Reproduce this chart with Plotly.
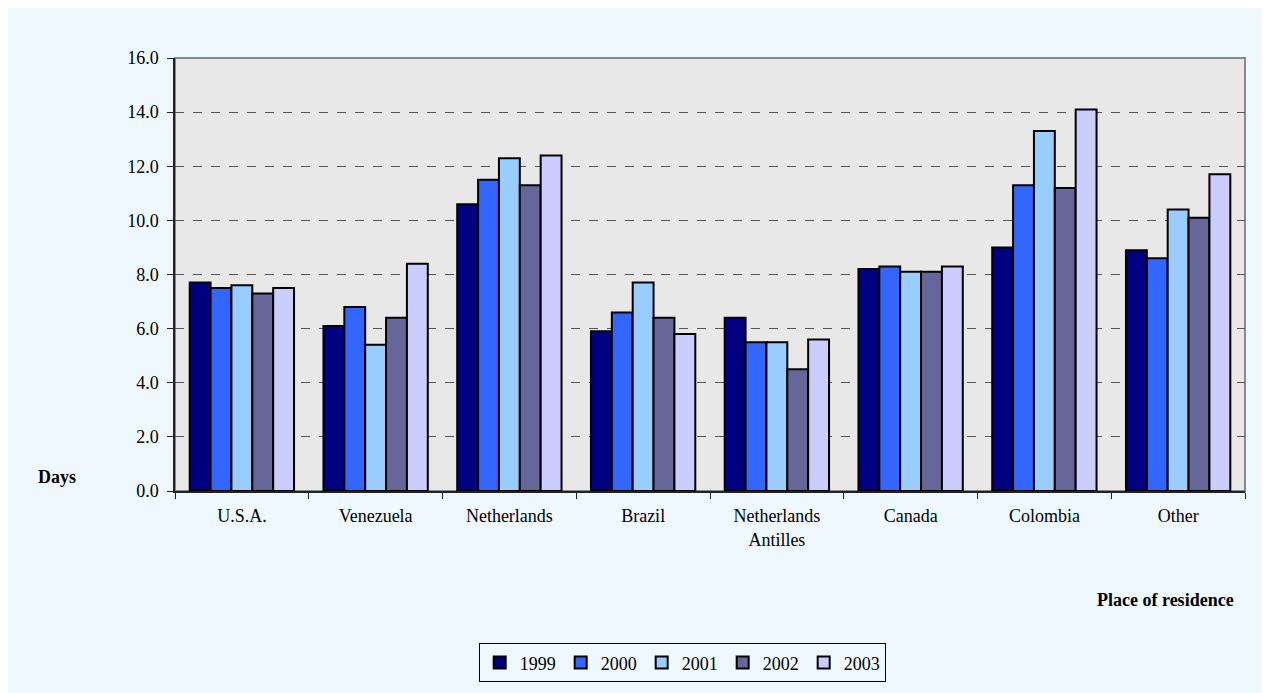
import plotly.graph_objects as go

categories = ["U.S.A.", "Venezuela", "Netherlands", "Brazil", "Netherlands<br>Antilles",
              "Canada", "Colombia", "Other"]
years = ["1999", "2000", "2001", "2002", "2003"]
values = {
    "1999": [7.7, 6.1, 10.6, 5.9, 6.4, 8.2, 9.0, 8.9],
    "2000": [7.5, 6.8, 11.5, 6.6, 5.5, 8.3, 11.3, 8.6],
    "2001": [7.6, 5.4, 12.3, 7.7, 5.5, 8.1, 13.3, 10.4],
    "2002": [7.3, 6.4, 11.3, 6.4, 4.5, 8.1, 11.2, 10.1],
    "2003": [7.5, 8.4, 12.4, 5.8, 5.6, 8.3, 14.1, 11.7],
}
colors = ["#000080", "#3366FF", "#99CCFF", "#666699", "#CCCCFF"]
y_ticks = [0, 2, 4, 6, 8, 10, 12, 14, 16]

FONT = "Liberation Serif"

fig = go.Figure()
for yr, c in zip(years, colors):
    fig.add_trace(go.Bar(
        x=categories, y=values[yr], name=yr,
        marker=dict(color=c, line=dict(color="black", width=2)),
    ))

fig.update_layout(
    width=1270, height=693,
    paper_bgcolor="#EEF8FE",
    plot_bgcolor="#E8E8E8",
    margin=dict(l=167, r=33, t=50, b=210),
    barmode="group", bargap=0.22, bargroupgap=0,
    font=dict(family=FONT, size=18, color="black"),
    showlegend=True,
    legend=dict(orientation="h", x=0.474, xanchor="center", y=-0.397, yanchor="middle",
                bgcolor="#EEF8FE", bordercolor="black", borderwidth=1,
                font=dict(family=FONT, size=18, color="black"), itemwidth=30, tracegroupgap=0),
    xaxis=dict(showline=True, linecolor="#222222", linewidth=1.5,
               ticks="outside", tickson="boundaries", ticklen=6, tickcolor="#222222",
               ticklabelstandoff=8,
               tickfont=dict(family=FONT, size=18), showgrid=False),
    yaxis=dict(range=[0, 16], tickvals=y_ticks, tickformat=".1f",
               showline=True, linecolor="#222222", linewidth=1.5,
               ticks="outside", ticklen=6, tickcolor="#222222",
               ticklabelstandoff=5,
               showgrid=True, gridcolor="#555555", gridwidth=1, griddash="dash",
               zeroline=False, tickfont=dict(family=FONT, size=18)),
    shapes=[dict(type="rect", xref="paper", yref="paper", x0=0, x1=1, y0=0, y1=1,
                 line=dict(color="#888888", width=2), layer="below")],
    annotations=[
        dict(text="<b>Days</b>", xref="paper", yref="paper", x=-0.110, y=0.032,
             xanchor="center", yanchor="middle", showarrow=False,
             font=dict(family=FONT, size=18)),
        dict(text="<b>Place of residence</b>", xref="paper", yref="paper", x=0.9916, y=-0.252,
             xanchor="right", yanchor="middle", showarrow=False,
             font=dict(family=FONT, size=18)),
    ],
)

fig.write_html("out.html")
